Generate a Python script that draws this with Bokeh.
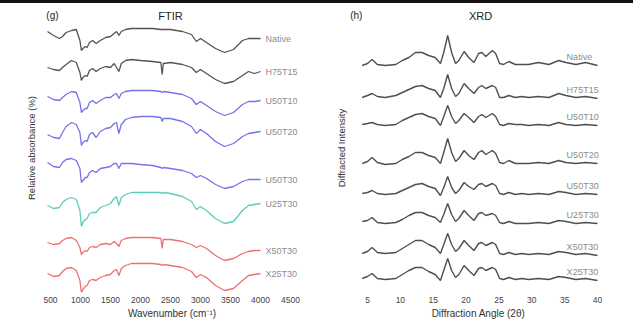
from bokeh.plotting import figure
from bokeh.models import Range1d, Div, FixedTicker, ColumnDataSource
from bokeh.layouts import row, column
from bokeh.core.properties import value
from bokeh.embed import file_html
from bokeh.resources import INLINE

FONT = "Liberation Sans"

samples = ["Native", "H75T15", "U50T10", "U50T20", "U50T30", "U25T30", "X50T30", "X25T30"]

# ---------------- FTIR (stacked relative absorbance, arbitrary units) ----------------
wavenumber = [450, 550, 650, 700, 760, 850, 930, 990, 1015, 1040, 1080, 1110, 1150, 1200,
              1260, 1330, 1420, 1500, 1560, 1600, 1640, 1680, 1750, 1850, 2000, 2200, 2340,
              2360, 2380, 2500, 2700, 2850, 2930, 3000, 3100, 3250, 3400, 3550, 3700, 3800,
              3900, 4000]
ftir_native = [269, 265, 262, 264, 268, 270, 271, 260, 250, 252, 254, 253, 258, 260, 257, 260,
               263, 264, 267, 269, 265, 269, 271, 272, 272, 272, 271, 271, 271, 271, 269, 266,
               259, 262, 258, 252, 248, 251, 260, 262, 262, 262]
ftir_h75t15 = [233, 231, 230, 233, 236, 240, 238, 228, 220, 223, 225, 224, 230, 232, 229, 232,
               234, 233, 237, 233, 229, 237, 240, 241, 240, 239, 238, 226, 237, 238, 236, 233,
               228, 231, 227, 221, 217, 219, 225, 229, 227, 229]
ftir_u50t10 = [204, 201, 200, 203, 206, 209, 208, 198, 188, 190, 192, 192, 198, 200, 197, 200,
               203, 203, 206, 207, 202, 207, 209, 210, 210, 210, 209, 208, 209, 208, 206, 202,
               196, 199, 195, 189, 185, 188, 196, 199, 199, 200]
ftir_u50t20 = [166, 163, 162, 168, 174, 178, 176, 168, 155, 158, 160, 159, 166, 168, 163, 169,
               172, 173, 177, 178, 167, 176, 181, 183, 184, 184, 183, 179, 182, 182, 179, 174,
               167, 171, 167, 159, 154, 157, 164, 167, 168, 169]
ftir_u50t30 = [138, 134, 133, 138, 141, 142, 140, 132, 118, 120, 123, 123, 128, 130, 128, 132,
               133, 134, 137, 137, 132, 137, 137, 137, 136, 135, 133, 132, 133, 132, 130, 127,
               123, 125, 122, 116, 112, 114, 119, 121, 121, 121]
ftir_u25t30 = [95, 92, 93, 98, 101, 103, 101, 90, 74, 78, 81, 82, 87, 88, 88, 93,
               95, 97, 102, 104, 95, 103, 106, 108, 108, 108, 108, 107, 108, 107, 104, 99,
               91, 94, 90, 82, 77, 79, 90, 95, 96, 97]
ftir_x50t30 = [58, 56, 57, 60, 62, 63, 60, 53, 46, 48, 50, 49, 53, 54, 53, 56,
               57, 56, 59, 57, 54, 60, 62, 63, 63, 63, 62, 52, 61, 61, 59, 56,
               53, 55, 52, 45, 40, 42, 47, 49, 50, 50]
ftir_x25t30 = [27, 24, 25, 29, 32, 33, 30, 20, 8, 11, 14, 15, 20, 21, 20, 23,
               25, 26, 30, 31, 25, 32, 35, 37, 37, 37, 36, 35, 36, 35, 33, 29,
               23, 26, 23, 15, 10, 12, 20, 25, 26, 27]
ftir_series = [ftir_native, ftir_h75t15, ftir_u50t10, ftir_u50t20,
               ftir_u50t30, ftir_u25t30, ftir_x50t30, ftir_x25t30]
ftir_ticks = [500, 1000, 1500, 2000, 2500, 3000, 3500, 4000, 4500]

# ---------------- XRD (stacked diffracted intensity, arbitrary units) ----------------
two_theta = [4.2, 5.0, 5.7, 6.5, 7.7, 9.3, 10.3, 11.3, 12.3, 13.3, 14.3, 15.3, 16.1, 16.6,
             17.2, 17.8, 18.4, 18.9, 19.7, 20.4, 21.2, 21.9, 22.4, 23.0, 24.0, 24.5, 25.1,
             25.7, 26.5, 27.5, 28.5, 29.5, 31.0, 32.6, 34.1, 35.2, 36.7, 38.2, 40.0]
xrd_native = [235, 237, 241, 236, 235, 236, 240, 243, 248, 248, 245, 243, 237, 248, 265, 248,
              237, 240, 249, 243, 238, 247, 248, 244, 250, 247, 237, 236, 239, 236, 236, 236,
              238, 236, 240, 238, 236, 238, 235]
xrd_h75t15 = [203, 205, 207, 204, 203, 205, 208, 211, 214, 215, 212, 210, 203, 212, 226, 212,
              204, 207, 217, 212, 207, 213, 215, 212, 215, 213, 203, 203, 205, 203, 204, 203,
              204, 203, 207, 205, 203, 204, 202]
xrd_u50t10 = [176, 177, 178, 176, 175, 176, 180, 183, 186, 187, 184, 182, 175, 184, 195, 184,
              177, 180, 187, 183, 178, 184, 186, 183, 187, 184, 176, 175, 177, 176, 176, 175,
              176, 175, 178, 176, 175, 176, 175]
xrd_u50t20 = [137, 139, 143, 138, 136, 137, 141, 144, 148, 148, 145, 143, 137, 148, 162, 148,
              139, 142, 150, 145, 141, 148, 150, 146, 150, 147, 138, 137, 140, 137, 137, 137,
              138, 137, 140, 138, 137, 138, 137]
xrd_u50t30 = [107, 108, 110, 107, 106, 107, 110, 113, 116, 117, 114, 112, 105, 113, 124, 113,
              107, 110, 118, 114, 111, 116, 117, 114, 117, 115, 107, 106, 108, 106, 107, 106,
              107, 106, 109, 108, 106, 107, 106]
xrd_u25t30 = [79, 80, 83, 78, 77, 78, 81, 85, 88, 88, 85, 83, 78, 86, 97, 86,
              79, 82, 90, 85, 80, 87, 88, 85, 87, 85, 78, 77, 79, 77, 77, 77,
              78, 77, 80, 79, 77, 78, 77]
xrd_x50t30 = [47, 49, 53, 48, 47, 48, 52, 56, 60, 60, 56, 53, 47, 56, 67, 56,
              49, 52, 60, 55, 50, 57, 58, 55, 58, 56, 47, 46, 48, 46, 47, 46,
              47, 46, 49, 48, 46, 47, 45]
xrd_x25t30 = [22, 24, 27, 22, 21, 22, 26, 30, 33, 33, 29, 26, 20, 30, 42, 30,
              23, 26, 35, 30, 25, 32, 33, 30, 33, 31, 22, 21, 23, 21, 22, 21,
              22, 21, 24, 23, 21, 22, 20]
xrd_series = [xrd_native, xrd_h75t15, xrd_u50t10, xrd_u50t20,
              xrd_u50t30, xrd_u25t30, xrd_x50t30, xrd_x25t30]
xrd_ticks = [5, 10, 15, 20, 25, 30, 35, 40]

ftir_colors = ["#404040", "#404040", "#6464e8", "#6464e8", "#6464e8", "#4cc6b4", "#ec6060", "#ec6060"]
xrd_color = "#3c3c3c"


def make_panel(width, border_left, border_right, x_range, xticks, xlabel, ylabel):
    p = figure(width=width, height=318, x_range=x_range, y_range=Range1d(8, 297),
               output_backend="svg", toolbar_location=None,
               min_border_left=border_left, min_border_right=border_right,
               min_border_top=0, min_border_bottom=29)
    p.outline_line_color = None
    p.grid.visible = False
    p.background_fill_color = "white"
    p.border_fill_color = "white"
    p.xaxis.ticker = FixedTicker(ticks=xticks)
    p.xaxis.axis_line_color = None
    p.xaxis.major_tick_line_color = None
    p.xaxis.minor_tick_line_color = None
    p.xaxis.major_tick_out = 0
    p.xaxis.major_tick_in = 0
    p.xaxis.major_label_standoff = 4
    p.xaxis.major_label_text_font = FONT
    p.xaxis.major_label_text_font_size = "8.5px"
    p.xaxis.major_label_text_color = "#444444"
    p.xaxis.axis_label = xlabel
    p.xaxis.axis_label_standoff = 2
    p.xaxis.axis_label_text_font = FONT
    p.xaxis.axis_label_text_font_style = "normal"
    p.xaxis.axis_label_text_font_size = "10px"
    p.xaxis.axis_label_text_color = "#333333"
    p.yaxis.ticker = FixedTicker(ticks=[])
    p.yaxis.axis_line_color = None
    p.yaxis.major_tick_line_color = None
    p.yaxis.minor_tick_line_color = None
    p.yaxis.major_tick_out = 0
    p.yaxis.major_label_standoff = 0
    p.yaxis.axis_label = ylabel
    p.yaxis.axis_label_standoff = 3
    p.yaxis.axis_label_text_font = FONT
    p.yaxis.axis_label_text_font_style = "normal"
    p.yaxis.axis_label_text_font_size = "9.5px"
    p.yaxis.axis_label_text_color = "#333333"
    return p


def panel_titles(p, xs, texts):
    src = ColumnDataSource(dict(x=xs, y=[285] * len(xs), text=texts, size=["10px", "11px"]))
    p.text(x="x", y="y", text="text", source=src, text_font=value(FONT), text_font_size="size",
           text_color="#222222", text_align="center", text_baseline="middle")


# FTIR panel  (frame spans page x 39..304)
p1 = make_panel(316, 39, 12, Range1d(316.7, 4733), ftir_ticks,
                "Wavenumber (cm\u207b\u00b9)", "Relative absorbance (%)")
for ys, c in zip(ftir_series, ftir_colors):
    p1.line(wavenumber, ys, line_color=c, line_width=1.3, line_alpha=0.9)
lab1 = ColumnDataSource(dict(x=[4083] * len(samples), y=[s[-1] for s in ftir_series], text=samples))
p1.text(x="x", y="y", text="text", source=lab1, text_font=value(FONT), text_font_size="9px",
        text_color="#8c8c8c", text_align="left", text_baseline="middle")
panel_titles(p1, [533, 2500], ["(g)", "FTIR"])

# XRD panel  (frame spans page x 349..607)
p2 = make_panel(317, 33, 26, Range1d(2.26, 41.52), xrd_ticks,
                "Diffraction Angle (2\u03b8)", "Diffracted Intensity")
for ys in xrd_series:
    p2.line(two_theta, ys, line_color=xrd_color, line_width=1.4, line_alpha=0.9)
lab2 = ColumnDataSource(dict(x=[35.3] * len(samples), y=[s[-1] + 9 for s in xrd_series], text=samples))
p2.text(x="x", y="y", text="text", source=lab2, text_font=value(FONT), text_font_size="9px",
        text_color="#8c8c8c", text_align="left", text_baseline="middle")
panel_titles(p2, [3.3, 22.2], ["(h)", "XRD"])

bar = Div(text="", width=633, height=3, margin=(0, 0, 0, 0),
          styles={"background-color": "#111111"})
layout = column(bar, row(p1, p2, spacing=0), spacing=0)

open("out.html", "w").write(file_html(layout, INLINE))
